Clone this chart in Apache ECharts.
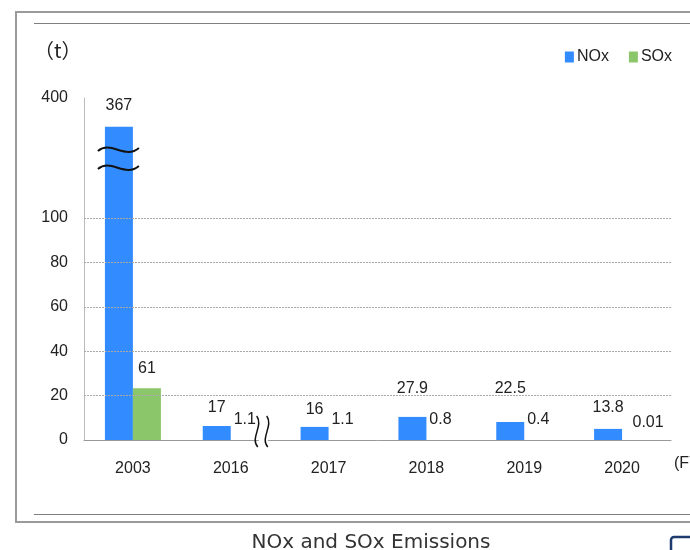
<!DOCTYPE html>
<html>
<head>
<meta charset="utf-8">
<title>NOx and SOx Emissions</title>
<script src="https://cdn.jsdelivr.net/npm/echarts@6/dist/echarts.min.js"></script>
<style>
html, body { margin: 0; padding: 0; background: #fff; }
#chart { width: 690px; height: 550px; }
</style>
</head>
<body>
<div id="chart"></div>
<script>
// fiscal years
const years = ["2003", "2016", "2017", "2018", "2019", "2020"];
// printed values (t)
const noxValues = ["367", "17", "16", "27.9", "22.5", "13.8"];
const soxValues = ["61", "1.1", "1.1", "0.8", "0.4", "0.01"];
// bar heights as drawn on the (broken) axis
const noxHeights = [141, 6.3, 5.9, 10.4, 8.1, 5];
const soxHeights = [23.3, 0, 0, 0, 0, 0];
// y axis: 0-100 drawn to scale, the top tick stands for 400
const yTicks = [0, 20, 40, 60, 80, 100];
const yTopValue = 154;
const yTopLabel = "400";

// label nudges (style only)
const noxLift = [3, 0, -1, 10, 15, 3];
const soxShift = [0, 0, 0, 0, 0, 12];

const FONT = '"Liberation Sans Narrow", "Liberation Sans", Arial, sans-serif';
const TEXT = "#222222";
const NOX_COLOR = "#338cff";
const SOX_COLOR = "#8cc66a";

let chart = echarts.init(document.getElementById("chart"));

let option = {
	animation: false,
	title: {
		text: "NOx and SOx Emissions",
		left: 366,
		textAlign: "center",
		top: 528,
		textStyle: {
			fontFamily: '"DejaVu Sans", Verdana, sans-serif',
			fontSize: 20,
			fontWeight: "normal",
			color: "#333333"
		}
	},
	legend: {
		right: 13,
		top: 44,
		itemWidth: 9,
		itemHeight: 11,
		itemGap: 20,
		icon: "rect",
		textStyle: {
			fontFamily: FONT,
			fontSize: 16,
			color: TEXT,
			padding: [0, 0, 0, -2]
		},
		data: ["NOx", "SOx"]
	},
	grid: {
		left: 84,
		right: 19,
		top: 98,
		bottom: 110,
		containLabel: false
	},
	xAxis: {
		type: "category",
		data: years,
		axisTick: { show: false },
		axisLine: { lineStyle: { color: "#999999", width: 1 } },
		axisLabel: {
			margin: 21,
			fontFamily: FONT,
			fontSize: 16,
			color: TEXT
		}
	},
	yAxis: {
		type: "value",
		min: 0,
		max: yTopValue,
		interval: 20,
		splitLine: { show: false },
		axisTick: { show: false },
		axisLine: { show: true, lineStyle: { color: "#bbbbbb", width: 1 } },
		axisLabel: {
			margin: 16,
			showMaxLabel: true,
			fontFamily: FONT,
			fontSize: 16,
			color: TEXT,
			formatter: function(value) {
				if (value === yTopValue) return yTopLabel;
				if (yTicks.indexOf(value) >= 0) return String(value);
				return "";
			}
		}
	},
	series: [
		{
			// dotted grid lines, drawn behind the bars
			name: "grid",
			type: "line",
			data: [],
			z: 1,
			silent: true,
			markLine: {
				silent: true,
				symbol: "none",
				label: { show: false },
				lineStyle: { color: "#a8a8a8", type: [2, 1], width: 1 },
				data: yTicks.slice(1).map(function(v) { return { yAxis: v }; })
			}
		},
		{
			name: "NOx",
			type: "bar",
			barWidth: 28,
			barGap: "0%",
			z: 3,
			itemStyle: { color: NOX_COLOR },
			data: noxHeights.map(function(h, i) {
				return { value: h, label: { offset: [0, -noxLift[i]] } };
			}),
			label: {
				show: true,
				position: "top",
				distance: 10,
				fontFamily: FONT,
				fontSize: 16,
				color: TEXT,
				formatter: function(p) { return noxValues[p.dataIndex]; }
			}
		},
		{
			name: "SOx",
			type: "bar",
			barWidth: 28,
			z: 3,
			itemStyle: { color: SOX_COLOR },
			data: soxHeights.map(function(h, i) {
				return { value: h, label: { offset: [soxShift[i], soxShift[i] ? 3 : 0] } };
			}),
			label: {
				show: true,
				position: "top",
				distance: 12,
				fontFamily: FONT,
				fontSize: 16,
				color: TEXT,
				formatter: function(p) { return soxValues[p.dataIndex]; }
			}
		}
	]
};
chart.setOption(option);

// decorations: frame, unit text, break marks
let c2003 = chart.convertToPixel({ xAxisIndex: 0 }, "2003");
let c2016 = chart.convertToPixel({ xAxisIndex: 0 }, "2016");
let x0 = chart.convertToPixel({ yAxisIndex: 0 }, 0);
let noxX = c2003 - 14;

function tilde(cx, cy) {
	return {
		type: "bezierCurve",
		z: 10,
		shape: { x1: cx - 21, y1: cy + 1, cpx1: cx - 8, cpy1: cy - 10, cpx2: cx + 6, cpy2: cy + 10, x2: cx + 20, y2: cy - 2 },
		style: { stroke: "#111111", lineWidth: 2, fill: null }
	};
}
function wave(x, y) {
	return {
		type: "bezierCurve",
		z: 10,
		shape: { x1: x, y1: y - 24, cpx1: x + 7, cpy1: y - 14, cpx2: x - 7, cpy2: y - 2, x2: x + 1, y2: y + 7 },
		style: { stroke: "#111111", lineWidth: 1.5, fill: null }
	};
}
let bx = c2016 + 26;

chart.setOption({
	graphic: [
		{
			type: "rect",
			z: 0,
			shape: { x: 16, y: 12, width: 700, height: 510 },
			style: { stroke: "#9a9a9a", lineWidth: 2, fill: null }
		},
		{
			type: "line",
			shape: { x1: 34, y1: 23.5, x2: 690, y2: 23.5 },
			style: { stroke: "#7f7f7f", lineWidth: 1 }
		},
		{
			type: "line",
			shape: { x1: 34, y1: 514.5, x2: 690, y2: 514.5 },
			style: { stroke: "#7f7f7f", lineWidth: 1 }
		},
		{
			type: "rect",
			shape: { x: 671, y: 537, width: 40, height: 40, r: 3 },
			style: { stroke: "#1f3a6e", lineWidth: 2.5, fill: "#ffffff" }
		},
		{
			type: "text",
			style: { text: "（t）", x: 34, y: 50, verticalAlign: "middle", fontFamily: '"Noto Sans CJK JP", sans-serif', fontSize: 20, fill: TEXT }
		},
		{
			type: "text",
			style: { text: "(FY)", x: 674, y: 464, verticalAlign: "middle", fontFamily: FONT, fontSize: 16, fill: TEXT }
		},
		tilde(noxX, 150),
		tilde(noxX, 168),
		{
			type: "rect",
			z: 9,
			shape: { x: bx + 2, y: x0 - 6, width: 9, height: 12 },
			style: { fill: "#ffffff" }
		},
		wave(bx, x0),
		wave(bx + 10, x0)
	]
});
</script>
</body>
</html>
